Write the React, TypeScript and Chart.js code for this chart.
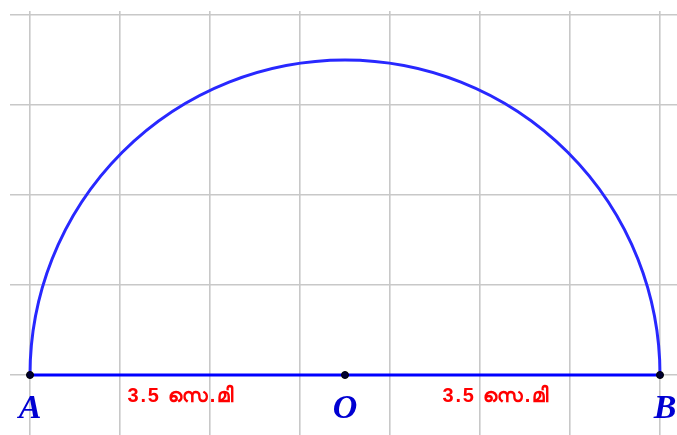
import React, { useEffect, useRef } from "react";
import { Chart, registerables } from "chart.js";

Chart.register(...registerables);

// Geometry data (units: cm, one grid square = 1 cm)
const pointNames = ["A", "O", "B"];
const pointX = [0, 3.5, 7];
const pointY = [0, 0, 0];
const radius = 3.5;
const segmentLabels = ["3.5 സെ.മി", "3.5 സെ.മി"];
const xTicks = [0, 1, 2, 3, 4, 5, 6, 7];
const yTicks = [0, 1, 2, 3, 4];

export default function App() {
  const ref = useRef<HTMLCanvasElement | null>(null);

  useEffect(() => {
    document.body.style.margin = "0";
    const canvas = ref.current!;
    const geoPlugin = {
      id: "geo",
      beforeDatasetsDraw(chart: any) {
        const { ctx, scales } = chart;
        const xs = scales.x;
        const ys = scales.y;
        const cx = xs.getPixelForValue(pointX[1]);
        const cy = ys.getPixelForValue(pointY[1]);
        const r = xs.getPixelForValue(pointX[1] + radius) - cx;
        ctx.save();
        ctx.beginPath();
        ctx.arc(cx, cy, r, Math.PI, 2 * Math.PI);
        ctx.strokeStyle = "rgb(40,40,255)";
        ctx.lineWidth = 3;
        ctx.stroke();
        ctx.restore();
      },
      afterDatasetsDraw(chart: any) {
        const { ctx, scales } = chart;
        const xs = scales.x;
        const ys = scales.y;
        ctx.save();
        ctx.fillStyle = "rgb(0,0,210)";
        ctx.font = "bold italic 34px 'Liberation Serif', serif";
        ctx.textAlign = "center";
        ctx.textBaseline = "alphabetic";
        pointNames.forEach((n, i) => {
          const px = xs.getPixelForValue(pointX[i]);
          const py = ys.getPixelForValue(pointY[i]);
          ctx.fillText(n, px + (i === 2 ? 5 : 0), py + 43);
        });
        ctx.fillStyle = "#ff0000";
        ctx.font = "bold 20px 'Liberation Sans', 'Noto Sans', sans-serif";
        (ctx as any).letterSpacing = "1.8px";
        ctx.textAlign = "left";
        segmentLabels.forEach((t, i) => {
          const mx = xs.getPixelForValue((pointX[i] + pointX[i + 1]) / 2);
          const py = ys.getPixelForValue(pointY[i]);
          ctx.fillText(t, mx - 60, py + 27);
        });
        ctx.restore();
      },
    };

    const chart = new Chart(canvas, {
      type: "scatter",
      data: {
        datasets: [
          {
            type: "line",
            data: [
              { x: pointX[0], y: pointY[0] },
              { x: pointX[2], y: pointY[2] },
            ],
            borderColor: "#0000ff",
            borderWidth: 3,
            pointRadius: 0,
            fill: false,
            order: 2,
          } as any,
          {
            data: pointX.map((x, i) => ({ x, y: pointY[i] })),
            backgroundColor: "#000033",
            borderColor: "#000000",
            borderWidth: 1,
            pointRadius: 3.5,
            order: 1,
          },
        ],
      },
      options: {
        responsive: false,
        animation: false,
        layout: { autoPadding: false, padding: { left: 10, top: 11, right: 0, bottom: 0 } },
        plugins: { legend: { display: false }, tooltip: { enabled: false } },
        scales: {
          x: {
            type: "linear",
            min: -20 / 90,
            max: -20 / 90 + 667 / 90,
            afterBuildTicks: (s: any) => {
              s.ticks = xTicks.map((v) => ({ value: v }));
            },
            afterFit: (s: any) => {
              s.height = 0;
              s.paddingLeft = 0;
              s.paddingRight = 0;
            },
            ticks: { display: false, padding: 0 },
            border: { display: false },
            grid: { color: "rgb(200,200,200)", lineWidth: 1.6, drawTicks: false },
          },
          y: {
            type: "linear",
            min: -60 / 90,
            max: 364 / 90,
            afterBuildTicks: (s: any) => {
              s.ticks = yTicks.map((v) => ({ value: v }));
            },
            afterFit: (s: any) => {
              s.width = 0;
              s.paddingTop = 0;
              s.paddingBottom = 0;
            },
            ticks: { display: false, padding: 0 },
            border: { display: false },
            grid: { color: "rgb(200,200,200)", lineWidth: 1.6, drawTicks: false },
          },
        },
      },
      plugins: [geoPlugin],
    });
    return () => chart.destroy();
  }, []);

  return (
    <div style={{ position: "absolute", left: 0, top: 0, width: 677, height: 435 }}>
      <canvas ref={ref} width={677} height={435} />
    </div>
  );
}
